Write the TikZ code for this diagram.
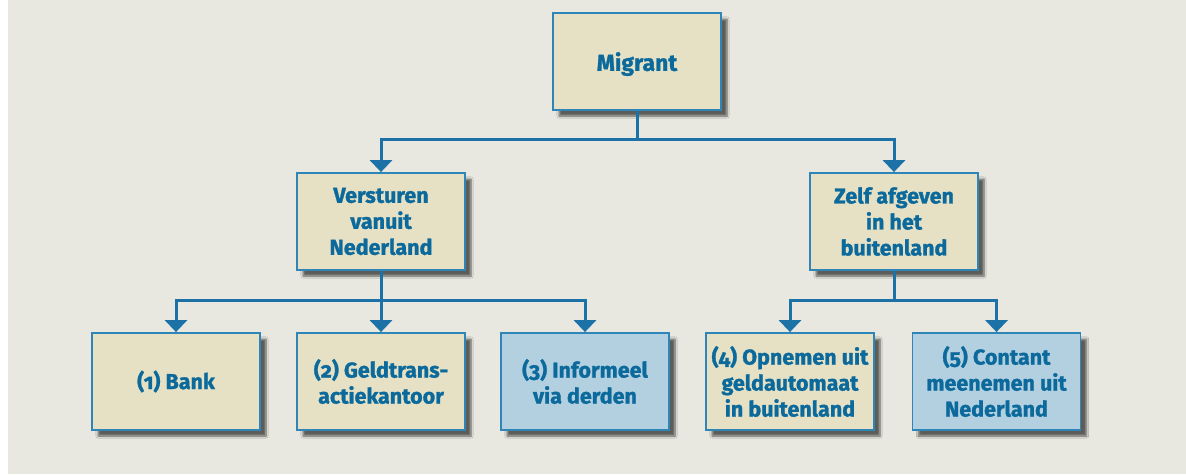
\documentclass[tikz,border=0pt]{standalone}
\usepackage{fontspec}
\setmainfont{Fira Sans}[UprightFont=* Bold, UprightFeatures={FakeBold=1.3}, Numbers=OldStyle]
\usetikzlibrary{arrows.meta,shadows.blur}
\definecolor{achtergrond}{HTML}{E8E7E0}
\definecolor{beige}{HTML}{E6E1C5}
\definecolor{lichtblauw}{HTML}{B3D0E1}
\definecolor{rand}{HTML}{2E86B8}
\definecolor{tekst}{HTML}{0B6A9B}
\definecolor{lijn}{HTML}{1C72A6}
\tikzset{
  blok/.style={draw=rand, line width=1.8pt, fill=beige, text=tekst,
    minimum width=168pt, minimum height=97pt, inner sep=0pt, align=center,
    font=\fontsize{21.5}{26}\selectfont,
    blur shadow={shadow xshift=6pt, shadow yshift=-6pt, shadow blur steps=6, shadow opacity=60}},
  blauwblok/.style={blok, fill=lichtblauw},
  tak/.style={draw=lijn, line width=3pt},
  pijl/.style={tak, -{Triangle[width=22pt,length=12pt]}}
}
\begin{document}
\begin{tikzpicture}[x=1pt,y=-1pt]
  \useasboundingbox (0,0) rectangle (1186,474);
  \fill[achtergrond] (8,0) rectangle (1186,474);
  %   Bovenste laag
  \node[blok, font=\fontsize{23}{26}\selectfont, text depth=0pt] (migrant) at (637,61.5) {Migrant};
  \node[blok] (versturen) at (381,221.5) {Versturen\\vanuit\\Nederland};
  \node[blok] (zelf) at (894,221.5) {Zelf afgeven\\in het\\buitenland};
  %   Onderste laag
  \node[blok] (bank) at (176,381.5) {(1) Bank};
  \node[blok] (geld) at (381,381.5) {(2) Geldtrans-\\actiekantoor};
  \node[blauwblok] (informeel) at (585,381.5) {(3) Informeel\\via derden};
  \node[blok] (opnemen) at (790,381.5) {(4) Opnemen uit\\geldautomaat\\in buitenland};
  \node[blauwblok] (contant) at (996.5,381.5) {(5) Contant\\meenemen uit\\Nederland};
  %   Verbindingen
  \draw[tak] (migrant.south) -- ++(0,29) coordinate (m1);
  \draw[pijl] (m1) -| (versturen.north);
  \draw[pijl] (m1) -| (zelf.north);
  \draw[tak] (versturen.south) -- ++(0,30) coordinate (v1);
  \draw[pijl] (v1) -| (bank.north);
  \draw[pijl] (v1) -- (geld.north);
  \draw[pijl] (v1) -| (informeel.north);
  \draw[tak] (zelf.south) -- ++(0,30) coordinate (z1);
  \draw[pijl] (z1) -| (opnemen.north);
  \draw[pijl] (z1) -| (contant.north);
\end{tikzpicture}
\end{document}
